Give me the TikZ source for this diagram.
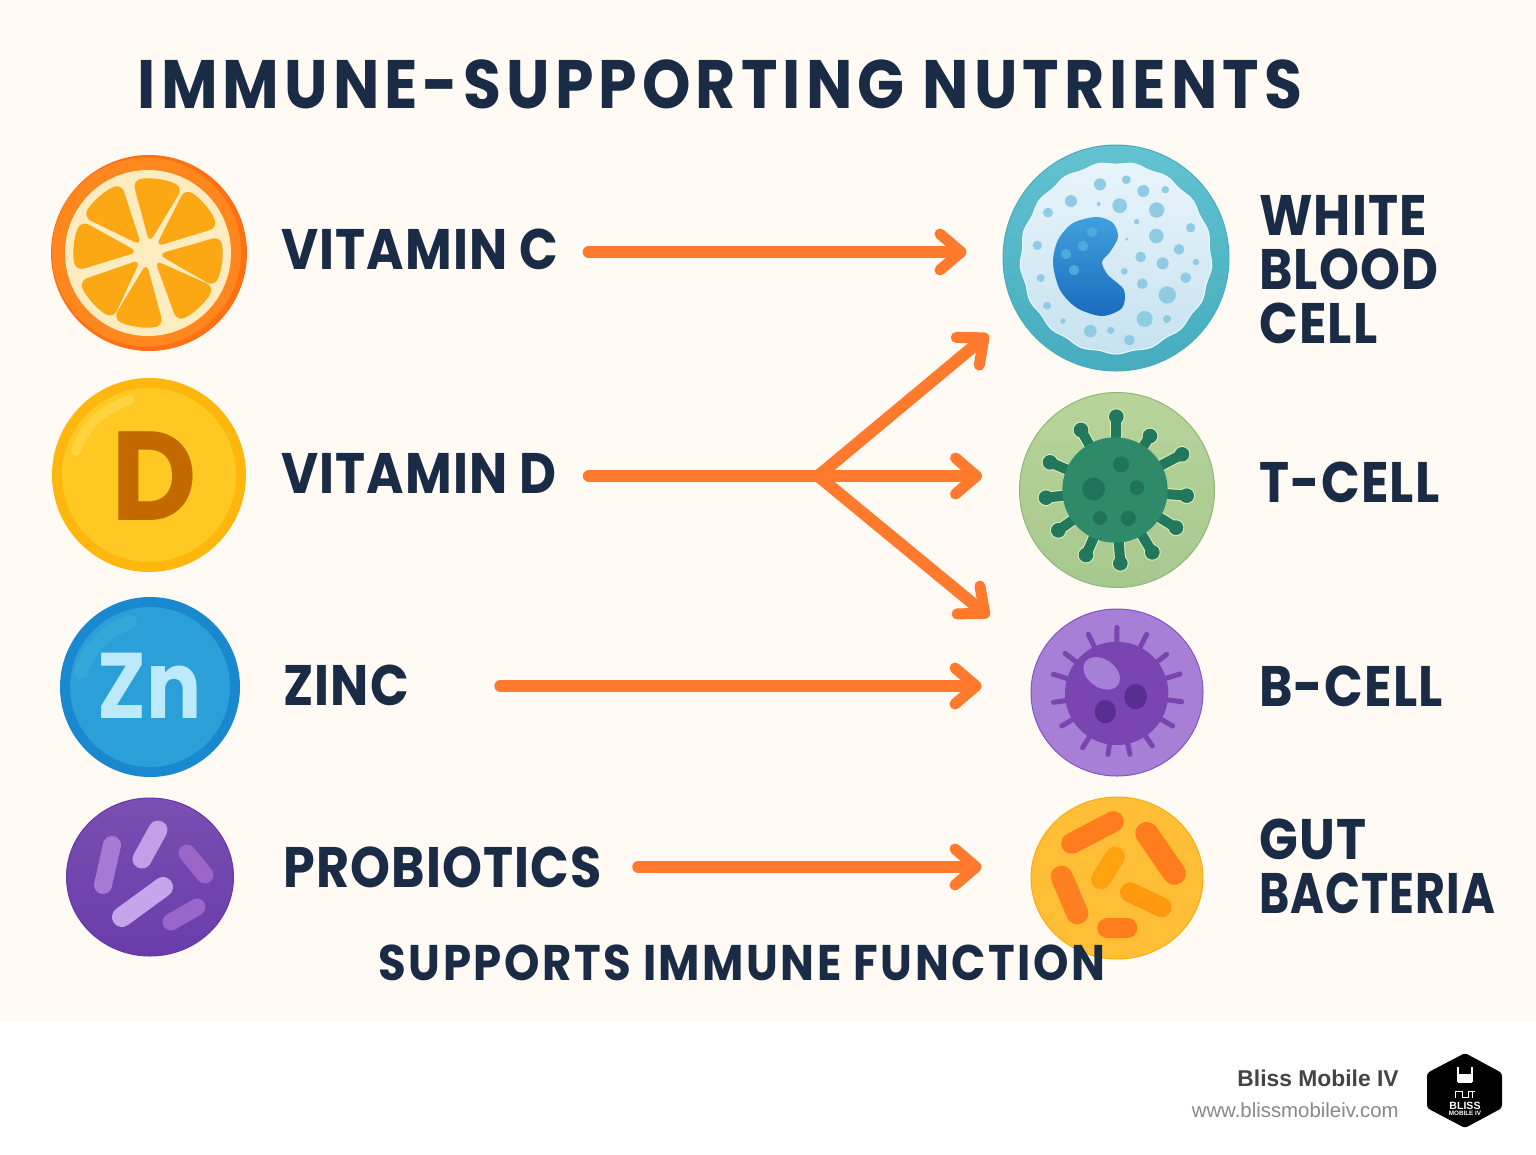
\documentclass[tikz,border=0pt]{standalone}
\usepackage{fontspec}
\usepackage{graphicx}
\usetikzlibrary{arrows.meta,shapes.geometric}
\setmainfont{Liberation Sans}
\newfontfamily\headfont[LetterSpace=2,FakeStretch=0.89]{Poppins}
\newfontfamily\titlefont[LetterSpace=7.4,FakeStretch=0.9]{Poppins}
\newfontfamily\supportfont[LetterSpace=5.0,FakeStretch=0.9]{Poppins}
\newfontfamily\coinfont{Poppins}
\def\pxu{0.02cm}
\definecolor{cream}{HTML}{FFFBF4}
\definecolor{navy}{HTML}{1A2B45}
\definecolor{flowcolor}{HTML}{FF7A2C}
\definecolor{rimdark}{HTML}{FF6F14}
\definecolor{rimorange}{HTML}{FF871E}
\definecolor{pith}{HTML}{FDECBF}
\definecolor{pulp}{HTML}{FBA814}
\definecolor{coinrim}{HTML}{FFB60D}
\definecolor{coinface}{HTML}{FFC822}
\definecolor{coinshine}{HTML}{FFD43F}
\definecolor{zincrim}{HTML}{1A88CF}
\definecolor{zincface}{HTML}{2A9FD8}
\definecolor{zincshine}{HTML}{33A8D8}
\definecolor{wbcdot}{HTML}{8FCBE2}
\definecolor{wbccore}{HTML}{4FA9DE}
\definecolor{tdark}{HTML}{1F7358}
\definecolor{tbody}{HTML}{2F8A6A}
\definecolor{tedge}{HTML}{E3EDB8}
\definecolor{bbody}{HTML}{7A45B0}
\definecolor{bpale}{HTML}{A67FD6}
\definecolor{bdark}{HTML}{5A2D91}
\begin{document}
\begin{tikzpicture}
[x=0.02cm,y=-0.02cm,
  iconbase/.style={shape=circle,inner sep=0pt,minimum size=#1*2*\pxu},
  ovalbase/.style={shape=ellipse,inner sep=0pt},
  labeltext/.style={anchor=west,inner sep=0pt,text=navy,align=left,
    font=\headfont\bfseries\fontsize{32.5}{30.7}\selectfont},
  flowline/.style={draw=flowcolor,line width=12*\pxu,line cap=round,
    -{Straight Barb[round,length=0.42cm,width=0.72cm,line width=0.22cm]}}]
\useasboundingbox (0,0) rectangle (1536,1154);
\fill[white] (0,0) rectangle (1536,1154);
\fill[cream] (0,0) rectangle (1536,1022);
%% orange slice
\node (orange) at (149,253) [iconbase=98,fill=rimdark] {};
\fill[rimorange] (146.5,252) circle (94.5);
\begin{scope}[shift={(148,253)}]
  \fill[pith] (0,0) circle (83);
  \foreach \ang in {-82,-40,7,47,98,138,186,229}
  {
    \fill[pulp,rounded corners=8*\pxu]
      (\ang:10) -- (\ang-20:74) arc (\ang-20:\ang+20:74) -- cycle;
  }
\end{scope}
%% vitamin d coin
\node (dcoin) at (149,475) [iconbase=97,fill=coinrim] {};
\fill[coinface] (dcoin) circle (87);
\draw[line width=10*\pxu,line cap=round,color=coinshine]
  (76,451) .. controls (84,425) and (104,409) .. (129,400);
\node at (154,476) [inner sep=0pt,xscale=0.93,transform shape,text={rgb,255:red,194;green,106;blue,0},
  font=\coinfont\bfseries\fontsize{72}{72}\selectfont] (dletter) {D};
%% zinc coin
\node (zncoin) at (150,687) [iconbase=90,fill=zincrim] {};
\fill[zincface] (zncoin) circle (80);
\draw[line width=14*\pxu,line cap=round,color=zincshine]
  (81,672) .. controls (88,650) and (104,632) .. (130,622);
\node at (150,686) [inner sep=0pt,xscale=0.88,transform shape,text={rgb,255:red,189;green,234;blue,250},
  font=\coinfont\bfseries\fontsize{53}{53}\selectfont] (znletter) {Zn};
%% probiotics
\node (probe) at (150,877) [ovalbase,minimum width=167*\pxu,minimum height=158*\pxu,
  draw={rgb,255:red,100;green,55;blue,170},line width=1*\pxu,
  top color={rgb,255:red,122;green,78;blue,178},bottom color={rgb,255:red,106;green,60;blue,170}] {};
\foreach \xa/\ya/\xb/\yb/\wide/\rodcolor in {112/845/103/885/18/A67AD4, 158/830/142/859/19/C49FE8,
  187/853/205/875/17/9B66C8, 163/887/122/917/20/C7A5EA, 197/907/171/922/17/9A66C9}
{
  \definecolor{rodfill}{HTML}{\rodcolor}
  \draw[line width=\wide*\pxu,line cap=round,color=rodfill] (\xa,\ya) -- (\xb,\yb);
}
%% white blood cell
\node (wbc) at (1116,258) [iconbase=113,draw={rgb,255:red,70;green,172;blue,190},line width=1*\pxu,
  top color={rgb,255:red,98;green,194;blue,208},bottom color={rgb,255:red,70;green,172;blue,190}] {};
\begin{scope}[shift={(1116,258)}]
  \draw[draw=white!60!cyan!20!white,line width=1*\pxu,top color={rgb,255:red,232;green,244;blue,250},
    bottom color={rgb,255:red,198;green,226;blue,240}]
    plot[smooth cycle,domain=0:356,samples=90] (\x:{95+1.1*sin(17*\x)});
\end{scope}
\begin{scope}[shift={(990,140)},scale=1/3]
  \foreach \x/\y/\r in {330/133/18, 409/119/13, 460/153/18, 526/149/11, 243/183/18, 326/192/6,
    389/197/22, 500/210/23, 174/218/15, 440/245/8, 602/263/14, 499/288/22, 410/297/5, 567/328/16,
    142/316/14, 452/351/16, 518/370/18, 618/366/10, 403/394/10, 587/413/16, 152/414/12, 457/431/16,
    532/465/26, 171/497/12, 464/537/24, 531/537/12, 219/543/8, 301/573/19, 362/571/11, 418/600/16}
  {
    \fill[wbcdot] (\x,\y) circle (\r);
  }
\end{scope}
\shade[top color={rgb,255:red,64;green,160;blue,220},bottom color={rgb,255:red,26;green,108;blue,190}]
  plot[smooth cycle] coordinates {(1097,217) (1113,223) (1118,237) (1110,252) (1102,262) (1108,275)
    (1124,290) (1122,308) (1102,316) (1077,308) (1060,290) (1053,263) (1058,240) (1073,223)};
\foreach \x/\y in {1092/232, 1083/246, 1066/254, 1074/270}
{
  \fill[wbccore] (\x,\y) circle (5.2);
}
%% t-cell
\node (tcell) at (1117,490) [iconbase=97.5,draw={rgb,255:red,140;green,185;blue,120},line width=1*\pxu,
  top color={rgb,255:red,184;green,212;blue,154},bottom color={rgb,255:red,166;green,200;blue,142}] {};
\begin{scope}[shift={(1010,385)},scale=1/3]
  \foreach \x/\y in {319/95, 213/135, 420/153, 516/208, 120/232, 530/332, 108/338, 498/428, 145/436,
    427/502, 228/510, 331/535}
  {
    \draw[tedge,line width=12*\pxu] (315,315) -- (\x,\y);
    \fill[tedge] (\x,\y) circle (25);
  }
  \foreach \x/\y in {319/95, 213/135, 420/153, 516/208, 120/232, 530/332, 108/338, 498/428, 145/436,
    427/502, 228/510, 331/535}
  {
    \draw[tdark!80!tbody,line width=10*\pxu] (315,315) -- (\x,\y);
    \fill[tdark!80!tbody] (\x,\y) circle (22);
  }
  \fill[tbody] (315,315) circle (158);
  \foreach \x/\y/\r in {333/238/24, 251/312/34, 381/308/22, 270/399/21, 355/400/23}
  {
    \fill[tdark] (\x,\y) circle (\r);
  }
\end{scope}
%% b-cell
\node (bcell) at (1117,692.5) [ovalbase,minimum width=172*\pxu,minimum height=167*\pxu,
  draw={rgb,255:red,125;green,85;blue,200},line width=1*\pxu,fill={rgb,255:red,168;green,127;blue,214}] {};
\begin{scope}[shift={(1020,600)},scale=1/3]
  \foreach \x/\y in {291/82, 205/103, 380/103, 135/160, 440/163, 100/223, 480/222, 100/307, 485/305,
    125/378, 458/378, 188/443, 397/438, 264/463, 330/463}
  {
    \draw[bbody,line width=5*\pxu,line cap=round] (290,280) -- (\x,\y);
  }
  \fill[bbody] (290,280) circle (155);
  \fill[bpale,rotate around={-35:(245,220)}] (245,220) ellipse (60 and 42);
  \fill[bdark] (347,290) ellipse (34 and 38);
  \fill[bdark] (256,335) ellipse (32 and 35);
\end{scope}
%% gut bacteria
\node (gut) at (1117,878) [ovalbase,minimum width=172*\pxu,minimum height=162*\pxu,
  draw={rgb,255:red,249;green,174;blue,16},line width=1*\pxu,fill={rgb,255:red,255;green,190;blue,53}] {};
\begin{scope}[shift={(1020,790)},scale=1/3]
  \foreach \xa/\ya/\xb/\yb/\wide/\rodcolor in {155/160/280/95/21/FF7D1C, 380/130/463/250/23/FF7D1C,
    285/200/243/268/20/FFA20F, 125/260/172/370/22/FF8020, 330/307/425/352/20/FF9A10, 262/414/322/414/20/FF7D1C}
  {
    \definecolor{rodfill}{HTML}{\rodcolor}
    \draw[line width=\wide*\pxu,line cap=round,color=rodfill] (\xa,\ya) -- (\xb,\yb);
  }
\end{scope}
%% left labels, lifted so that each centre sits on its arrow
\foreach \nodename/\x/\y/\lift/\caption in {vitc/281/252/6/VITAMIN C, vitd/281/476/5/VITAMIN D,
  zinc/283/686/2/ZINC, probio/283/867/0/PROBIOTICS}
{
  \node (\nodename) at (\x,\y) [labeltext,text height=40*\pxu,text depth=\lift*\pxu] {\caption};
}
%% right labels
\node (wbctext) at (1259,270) [labeltext] {WHITE\\BLOOD\\CELL};
\node (ttext) at (1259,482) [labeltext] {T-CELL};
\node (btext) at (1259,686) [labeltext] {B-CELL};
\node (guttext) at (1259,866) [labeltext] {GUT\\\scalebox{0.905}[1]{BACTERIA}};
%% title and footer
\node (title) at (720,84) [inner sep=0pt,text=navy,font=\titlefont\bfseries\fontsize{39}{47}\selectfont]
  {IMMUNE-SUPPORTING NUTRIENTS};
\node (support) at (742,963) [inner sep=0pt,text=navy,font=\supportfont\bfseries\fontsize{28.5}{34}\selectfont]
  {SUPPORTS IMMUNE FUNCTION};
\node (brand) at (1399,1078) [anchor=east,inner sep=0pt,text={rgb,255:red,68;green,68;blue,68},
  font=\bfseries\fontsize{13}{16}\selectfont] {Bliss Mobile IV};
\node (site) at (1399,1110) [anchor=east,inner sep=0pt,text={rgb,255:red,136;green,136;blue,136},
  font=\fontsize{11.6}{14}\selectfont] {www.blissmobileiv.com};
%% logo
\fill[black,rounded corners=3*\pxu] (1465,1053) -- (1502,1073) -- (1502,1108) -- (1465,1128)
  -- (1427,1108) -- (1427,1073) -- cycle;
\draw[white,line width=1.5*\pxu] (1458,1067) -- (1458,1081) -- (1472,1081) -- (1472,1067);
\fill[white] (1458,1074) rectangle (1472,1083);
\draw[white,line width=1*\pxu] (1455,1098) -- (1455,1091) -- (1462,1091) -- (1462,1097) -- (1468,1097)
  -- (1468,1091) -- (1475,1091) (1472,1091) -- (1472,1098);
\node (logoname) at (1465,1106) [inner sep=0pt,text=white,font=\bfseries\fontsize{6}{6}\selectfont] {BLISS};
\node (logosub) at (1465,1113) [inner sep=0pt,text=white,font=\bfseries\fontsize{3.6}{4}\selectfont] {MOBILE IV};
%% arrows
\coordinate (hub) at (818,476);
\path
\foreach \nodename/\cellname/\startgap/\endgap in {vitc/wbc/30/36, vitd/tcell/32/37,
  zinc/bcell/91/49, probio/gut/36/49}
{
  (\nodename.east) edge[flowline,shorten <=\startgap*\pxu,shorten >=\endgap*\pxu] (\nodename.east -| \cellname.west)
};
\path (hub) edge[flowline,shorten >=36*\pxu] (wbc.208)
  (hub) edge[flowline,shorten >=64*\pxu] (bcell.156);
\end{tikzpicture}
\end{document}
